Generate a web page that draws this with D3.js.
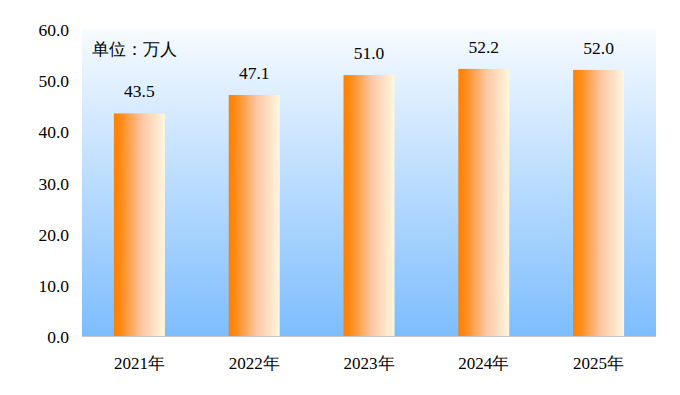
<!DOCTYPE html>
<html>
<head>
<meta charset="utf-8">
<script src="https://cdn.jsdelivr.net/npm/d3@7"></script>
<style>
  body { margin: 0; background: #fff; }
</style>
</head>
<body>
<svg width="680" height="395"></svg>
<script>
var years = ["2021年", "2022年", "2023年", "2024年", "2025年"]
var values = [43.5, 47.1, 51.0, 52.2, 52.0]
var yTicks = [0, 10, 20, 30, 40, 50, 60]
var unitText = "单位：万人"

var font = "'Liberation Serif'"

var svg = d3.select("svg"),
  plotLeft = 82, plotRight = 656, plotTop = 29, plotBottom = 336

var defs = svg.append("defs")
var bg = defs.append("linearGradient").attr("id", "bg")
  .attr("x1", 0).attr("y1", 0).attr("x2", 0).attr("y2", 1)
bg.append("stop").attr("offset", "0%").attr("stop-color", "#f7fbff")
bg.append("stop").attr("offset", "100%").attr("stop-color", "#7dbdfd")

var barGrad = defs.append("linearGradient").attr("id", "bar")
  .attr("x1", 0).attr("y1", 0).attr("x2", 1).attr("y2", 0)
barGrad.append("stop").attr("offset", "0%").attr("stop-color", "#ff7f00")
barGrad.append("stop").attr("offset", "15%").attr("stop-color", "#ff8c1a")
barGrad.append("stop").attr("offset", "55%").attr("stop-color", "#fdc6a4")
barGrad.append("stop").attr("offset", "100%").attr("stop-color", "#fff7df")

var x = d3.scaleBand().domain(years).range([plotLeft, plotRight]).paddingInner(0.556).paddingOuter(0.278)
var y = d3.scaleLinear().domain([0, 60]).range([plotBottom, plotTop])

svg.append("rect")
  .attr("x", plotLeft).attr("y", plotTop)
  .attr("width", plotRight - plotLeft).attr("height", plotBottom - plotTop)
  .attr("fill", "url(#bg)")

svg.append("line")
  .attr("x1", plotLeft).attr("x2", plotRight)
  .attr("y1", plotBottom + 0.5).attr("y2", plotBottom + 0.5)
  .attr("stroke", "#c8c8c8")

// y axis labels only, no axis line
svg.selectAll(".ytick")
  .data(yTicks)
  .enter().append("text")
  .attr("x", 69)
  .attr("y", function(d) { return y(d) + 7; })
  .attr("text-anchor", "end")
  .style("font-family", font)
  .style("font-size", "17.5px")
  .text(function(d) { return d.toFixed(1); })

svg.selectAll(".bar")
  .data(values)
  .enter().append("rect")
  .attr("x", function(d, i) { return x(years[i]); })
  .attr("y", function(d) { return y(d); })
  .attr("width", x.bandwidth())
  .attr("height", function(d) { return plotBottom - y(d); })
  .attr("fill", "url(#bar)")

svg.selectAll(".val")
  .data(values)
  .enter().append("text")
  .attr("x", function(d, i) { return x(years[i]) + x.bandwidth() / 2; })
  .attr("y", function(d) { return y(d) - 16; })
  .attr("text-anchor", "middle")
  .style("font-family", font)
  .style("font-size", "17.5px")
  .text(function(d) { return d.toFixed(1); })

svg.selectAll(".xl")
  .data(years)
  .enter().append("text")
  .attr("x", function(d) { return x(d) + x.bandwidth() / 2; })
  .attr("y", 369)
  .attr("text-anchor", "middle")
  .style("font-family", font)
  .style("font-size", "17px")
  .text(function(d) { return d; })

svg.append("text")
  .attr("x", 92).attr("y", 55)
  .style("font-family", font)
  .style("font-size", "17px")
  .text(unitText)
</script>
</body>
</html>
